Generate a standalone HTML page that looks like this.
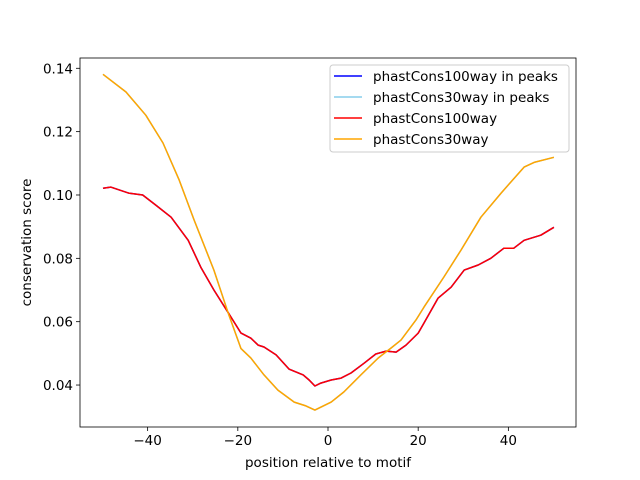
<!DOCTYPE html>
<html><head><meta charset="utf-8"><style>
body{margin:0;background:#fff;}
svg{display:block;font-family:"DejaVu Sans","Liberation Sans",sans-serif;}
</style></head><body>
<svg id="chart" width="640" height="480" viewBox="0 0 640 480"></svg>
<script>
const redX=[-49.9,-48.2,-44.2,-41.1,-38.2,-34.8,-31.0,-28.2,-25.3,-22.2,-19.3,-17.1,-15.5,-14.2,-11.5,-8.6,-5.5,-4.2,-2.9,-1.6,0.7,2.9,5.1,8.0,10.6,12.9,15.1,17.3,20.0,21.3,24.4,27.3,30.2,33.3,36.1,39.0,41.2,43.5,47.2,50.1];
const redY=[0.1021,0.1025,0.1006,0.100,0.0968,0.0930,0.0857,0.0772,0.070,0.063,0.0564,0.0548,0.0526,0.052,0.0495,0.045,0.0432,0.0416,0.0397,0.0406,0.0416,0.0422,0.0438,0.0469,0.0498,0.0507,0.0504,0.0526,0.0564,0.0596,0.0674,0.0709,0.0763,0.0779,0.080,0.0832,0.0832,0.0857,0.0873,0.0898];
const orX=[-49.9,-44.8,-40.4,-36.6,-33,-29.7,-25.3,-22.2,-19.3,-17.1,-14.2,-11.1,-7.5,-4.9,-2.9,0.7,3.5,7.3,11.1,14.0,16.2,19.5,21.3,25.7,29.5,33.9,38.4,43.5,45.7,50.1];
const orY=[0.1381,0.1325,0.1252,0.1164,0.1047,0.0921,0.0763,0.063,0.0515,0.0485,0.0432,0.0384,0.0346,0.0334,0.0321,0.0346,0.0378,0.0432,0.0485,0.0517,0.0542,0.0605,0.0646,0.0741,0.0826,0.0930,0.1006,0.1088,0.1103,0.1119];
const xTicks=[-40,-20,0,20,40];
const yTicks=[0.04,0.06,0.08,0.10,0.12,0.14];
const legendLabels=["phastCons100way in peaks","phastCons30way in peaks","phastCons100way","phastCons30way"];
const legendColors=["#0000ff","#87ceeb","#ff0000","#ffa500"];

const L=80,R=576,T=58,B=427,xmin=-55,xmax=55,ymin=0.02675,ymax=0.14325;
const sx=v=>L+(v-xmin)/(xmax-xmin)*(R-L);
const sy=v=>B-(v-ymin)/(ymax-ymin)*(B-T);
const svg=document.getElementById('chart');
const NS="http://www.w3.org/2000/svg";
function mk(t,a,p){const e=document.createElementNS(NS,t);for(const k in a)e.setAttribute(k,a[k]);(p||svg).appendChild(e);return e;}
function path(xs,ys){return xs.map((x,i)=>(i?'L':'M')+sx(x).toFixed(1)+' '+sy(ys[i]).toFixed(1)).join(' ');}

xTicks.forEach(v=>{
  const g=mk('g',{});
  
  
  mk('line',{x1:sx(v),x2:sx(v),y1:B,y2:B+4,stroke:'#000','stroke-width':0.8},g);
  const t=mk('text',{x:sx(v),y:B+18,'text-anchor':'middle','font-size':'13.5'},g);
  t.textContent=v===0?'0':(v<0?'\u2212'+(-v):''+v);
});
yTicks.forEach(v=>{
  const g=mk('g',{});
  
  
  mk('line',{x1:L-4,x2:L,y1:sy(v),y2:sy(v),stroke:'#000','stroke-width':0.8},g);
  const t=mk('text',{x:L-7,y:sy(v)+5,'text-anchor':'end','font-size':'13.5'},g);
  t.textContent=v.toFixed(2);
});

const s1=mk('path',{d:path(redX,redY),fill:'none',stroke:'#0000ff','stroke-width':1.5,'stroke-linejoin':'round'});


const s2=mk('path',{d:path(orX,orY),fill:'none',stroke:'#87ceeb','stroke-width':1.5,'stroke-linejoin':'round'});


const s3=mk('path',{d:path(redX,redY),fill:'none',stroke:'#ff0000','stroke-width':1.5,'stroke-linejoin':'round'});


const s4=mk('path',{d:path(orX,orY),fill:'none',stroke:'#ffa500','stroke-width':1.5,'stroke-linejoin':'round'});



const frame=mk('rect',{x:L,y:T,width:R-L,height:B-T,fill:'none',stroke:'#000','stroke-width':0.8});



const xt=mk('text',{x:(L+R)/2,y:467,'text-anchor':'middle','font-size':'13.5'});
xt.textContent='position relative to motif';


const yt=mk('text',{x:0,y:0,'text-anchor':'middle','font-size':'13.5',transform:'translate(31,'+((T+B)/2)+') rotate(-90)'});
yt.textContent='conservation score';



const lg=mk('g',{});


mk('rect',{x:330,y:65,width:239,height:87,rx:3,fill:'#fff','fill-opacity':0.8,stroke:'#ccc','stroke-width':1},lg);
legendLabels.forEach((lab,i)=>{
  const g=mk('g',{},lg);
  
  
  const y=76+i*21;
  mk('line',{x1:334,x2:362,y1:y,y2:y,stroke:legendColors[i],'stroke-width':1.5},g);
  const t=mk('text',{x:373,y:y+5,'font-size':'13.5'},g);
  t.textContent=lab;
});
</script>
</body></html>
